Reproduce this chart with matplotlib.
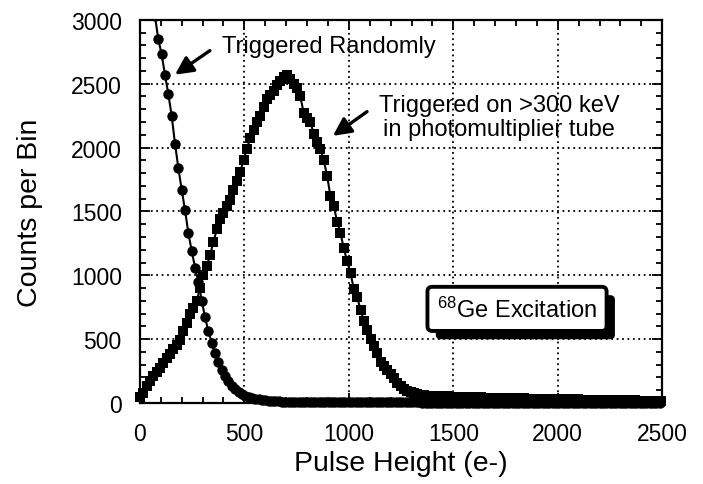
import numpy as np
import matplotlib
matplotlib.use('Agg')
from matplotlib import pyplot as plt
from matplotlib import patheffects
from matplotlib.patches import Rectangle
from matplotlib.ticker import MultipleLocator

plt.rcParams['font.family'] = ['Liberation Sans', 'DejaVu Sans']
plt.rcParams['mathtext.default'] = 'regular'

# Triggered randomly (circles), bins of 16 e- starting at 72
random_start = 72
random_counts = [
    3030, 2850, 2730, 2570, 2420, 2250, 2030, 1840, 1670, 1510,
    1330, 1190, 1060, 950, 800, 670, 560, 470, 390, 320,
    260, 210, 170, 135, 108, 86, 70, 57, 47, 39,
    33, 28, 24, 21, 18, 16, 14, 12, 11, 10,
    9, 9, 9, 8, 8, 8, 8, 7, 7, 7,
    7, 7, 6, 6, 6, 6, 6, 6, 5, 5,
    5, 5, 5, 5, 5, 5, 5, 4, 4, 4,
    4, 4, 4, 4, 4, 4, 4, 4, 4, 4,
    3, 3, 3, 3, 3, 3, 3, 3, 3, 3,
    3, 3, 3, 3, 3, 3, 3, 3, 3, 3,
    3, 3, 3, 3, 3, 3, 3, 3, 3, 3,
    3, 3, 3, 3, 3, 3, 3, 3, 3, 3,
    2, 2, 2, 2, 2, 2, 2, 2, 2, 2,
    2, 2, 2, 2, 2, 2, 2, 2, 2, 2,
    2, 2, 2, 2, 2, 2, 2, 2, 2, 2,
    2, 2,
]

# Triggered on >300 keV in PMT (squares), bins of 16 e- starting at 0
pmt_start = 0
pmt_counts = [
    45, 80, 130, 175, 210, 240, 275, 315, 350, 385,
    420, 455, 490, 560, 630, 700, 740, 800, 900, 1000,
    1070, 1160, 1260, 1360, 1440, 1490, 1540, 1590, 1670, 1740,
    1810, 1900, 1990, 2075, 2140, 2200, 2250, 2320, 2380, 2410,
    2440, 2490, 2520, 2550, 2565, 2540, 2500, 2470, 2400, 2270,
    2230, 2200, 2110, 2040, 1990, 1900, 1780, 1620, 1540, 1420,
    1330, 1210, 1110, 1020, 890, 830, 730, 640, 570, 500,
    450, 390, 320, 290, 260, 225, 195, 160, 130, 110,
    95, 85, 75, 70, 66, 60, 57,
    55, 54, 53, 52, 52, 51, 50, 49, 48, 48,
    47, 46, 46, 47, 47, 45, 43, 42, 41, 40,
    40, 39, 39, 38, 38, 37, 37, 36, 36, 35,
    35, 34, 34, 33, 33, 32, 32, 31, 31, 30,
    30, 29, 29, 28, 28, 27, 27, 26, 26, 25,
    25, 24, 24, 23, 23, 22, 22, 21, 21, 20,
    20, 20, 19, 19, 19, 18, 18, 18, 18, 17,
]

bin_width = 16
random_x = random_start + bin_width * np.arange(len(random_counts))
pmt_x = pmt_start + bin_width * np.arange(len(pmt_counts))

fig = plt.figure(figsize=(7.03, 4.85), dpi=100)
ax = fig.add_axes([0.199, 0.167, 0.743, 0.790])

# let markers spill below the x axis, but clip at the top
clip = Rectangle((-0.03, -0.05), 1.06, 1.05, transform=ax.transAxes,
                 facecolor='none', edgecolor='none')

l1, = ax.plot(random_x, random_counts, color='k', lw=1.5, marker='o',
              markersize=7.5, markeredgewidth=0, zorder=4)
l2, = ax.plot(pmt_x, pmt_counts, color='k', lw=1.5, marker='s',
              markersize=7.5, markeredgewidth=0, zorder=4)
l1.set_clip_path(clip)
l2.set_clip_path(clip)

ax.set_xlim(0, 2500)
ax.set_ylim(0, 3000)
ax.xaxis.set_major_locator(MultipleLocator(500))
ax.xaxis.set_minor_locator(MultipleLocator(100))
ax.yaxis.set_major_locator(MultipleLocator(500))
ax.yaxis.set_minor_locator(MultipleLocator(100))
ax.grid(True, which='major', color='k', linestyle=(0, (1, 2)), lw=1.3)
ax.set_axisbelow(True)

ax.tick_params(which='both', direction='in', top=True, right=True,
               width=1.3, labelsize=16.5)
ax.tick_params(which='major', length=7)
ax.tick_params(which='minor', length=4)
ax.tick_params(axis='x', pad=14)
ax.tick_params(axis='y', pad=13)
for sp in ax.spines.values():
    sp.set_linewidth(1.6)

ax.set_xlabel('Pulse Height (e-)', fontsize=20.5, labelpad=3)
ax.set_ylabel('Counts per Bin', fontsize=20.5, labelpad=20)

arrow = dict(arrowstyle='-|>', color='k', lw=2.4, mutation_scale=27,
             shrinkA=0, shrinkB=0)

ax.text(905, 2798, 'Triggered Randomly', fontsize=17,
        ha='center', va='center')
ax.annotate('', xy=(168, 2571), xytext=(335, 2759), arrowprops=arrow)

ax.text(1720, 2240, 'Triggered on >300 keV\nin photomultiplier tube',
        fontsize=17, ha='center', va='center', linespacing=1.1)
ax.annotate('', xy=(924, 2092), xytext=(1087, 2281), arrowprops=arrow)

t = ax.text(1805, 737, '$^{68}$Ge Excitation', fontsize=17,
            ha='center', va='center', zorder=6,
            bbox=dict(boxstyle='round,pad=0.4,rounding_size=0.2',
                      facecolor='white', edgecolor='k', lw=2.8))
t.get_bbox_patch().set_path_effects([
    patheffects.SimplePatchShadow(offset=(6, -6), shadow_rgbFace='k', alpha=1),
    patheffects.Normal()])

fig.savefig('out.png', dpi=100)
